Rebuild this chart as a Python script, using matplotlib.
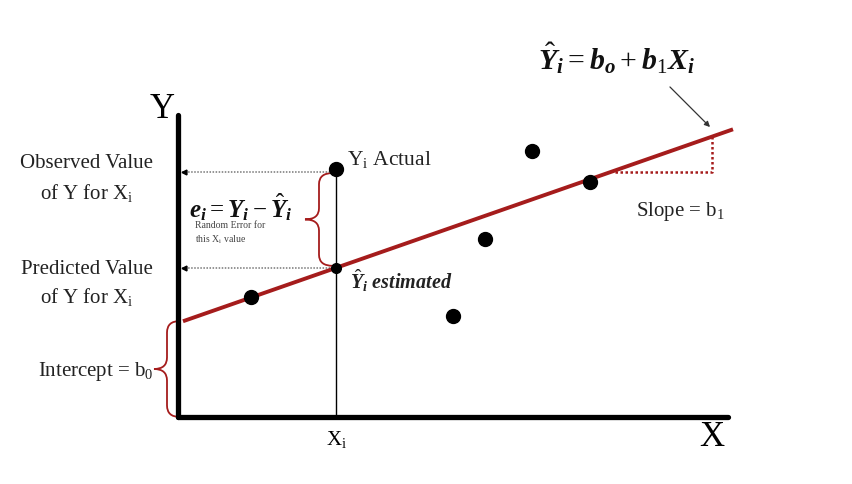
import numpy as np
import matplotlib
matplotlib.use("Agg")
import matplotlib.pyplot as plt
from matplotlib.path import Path
from matplotlib.patches import PathPatch

plt.rcParams["font.family"] = ["Liberation Serif", "DejaVu Serif"]
plt.rcParams["mathtext.fontset"] = "custom"
plt.rcParams["mathtext.rm"] = "Liberation Serif"
plt.rcParams["mathtext.it"] = "Liberation Serif:italic:bold"
plt.rcParams["mathtext.bf"] = "Liberation Serif:bold"

# observations (diagram units, origin at the axis corner)
obs_x = [7.3, 15.8, 27.5, 30.7, 35.4, 41.2]
obs_y = [12.0, 24.8, 10.1, 17.8, 26.6, 23.5]
b0, b1 = 9.4, 0.349
line_x = [0.5, 55.5]
xi = 15.8                 # the highlighted X_i
slope_x = [43.7, 53.4]    # run of the slope triangle
RED = "#A51C1C"


def brace(ax, x, y0, y1, w, color=RED, lw=1.3):
    """vertical curly brace with its tip pointing left (w > 0)"""
    ym = 0.5 * (y0 + y1)
    r = min(w * 0.5, (y1 - y0) * 0.12)
    xc = x - w / 2
    verts = [(x, y1), (xc, y1), (xc, y1 - r),
             (xc, ym + r),
             (xc, ym), (x - w, ym),
             (xc, ym), (xc, ym - r),
             (xc, y0 + r),
             (xc, y0), (x, y0)]
    codes = [Path.MOVETO, Path.CURVE3, Path.CURVE3,
             Path.LINETO,
             Path.CURVE3, Path.CURVE3,
             Path.CURVE3, Path.CURVE3,
             Path.LINETO,
             Path.CURVE3, Path.CURVE3]
    ax.add_patch(PathPatch(Path(verts, codes), fc="none", ec=color, lw=lw))


fig = plt.figure(figsize=(8.53, 4.85), dpi=100)
ax = fig.add_axes([0, 0, 1, 1])
ax.set_xlim(-17.8, 67.5)
ax.set_ylim(-6.7, 41.8)
ax.axis("off")

yhat = b0 + b1 * xi
yobs = obs_y[1]

# axes
ax.plot([0, 0], [0, 30.2], color="black", lw=3.8, solid_capstyle="round")
ax.plot([0, 55.0], [0, 0], color="black", lw=3.8, solid_capstyle="round")

# guide lines
ax.plot([xi, xi], [0, yobs], color="black", lw=1)
for yy in (yobs - 0.3, yhat):
    ax.plot([0.4, xi], [yy, yy], color="#777777", lw=1.1, ls=(0, (1, 1)))
    ax.plot(0.6, yy, marker="<", color="black", ms=3.5)

# regression line
lx = np.array(line_x)
ax.plot(lx, b0 + b1 * lx, color=RED, lw=2.8, solid_capstyle="butt")

# slope triangle
sx0, sx1 = slope_x
ytri = b0 + b1 * sx0 - 0.15
ax.plot([sx0, sx1, sx1], [ytri, ytri, b0 + b1 * sx1],
        color=RED, lw=1.8, ls=(0, (1, 1)))

# points
ax.plot(obs_x, obs_y, "o", color="black", ms=10, ls="none")
ax.plot(xi, yhat, "o", color="black", ms=7)

# braces
brace(ax, xi - 0.3, yhat + 0.2, yobs - 0.4, 2.8)
brace(ax, 0.2, 0.0, b0 + 0.2, 2.6)

# arrow to the line
ax.annotate("", xy=(53.4, 28.8), xytext=(49.0, 33.2),
            arrowprops=dict(arrowstyle="-|>", color="#333333", lw=0.9,
                            mutation_scale=8))

# texts
ax.text(-1.6, 30.8, "Y", fontsize=25, ha="center", va="center")
ax.text(53.4, -2.0, "X", fontsize=25, ha="center", va="center")
ax.text(xi, -2.2, r"X$_\mathrm{i}$", fontsize=15, ha="center", va="center")

lab = dict(fontsize=15, ha="center", va="center", color="#222222")
ax.text(-9.1, 25.5, "Observed Value", **lab)
ax.text(-9.1, 22.5, r"of Y for X$_\mathrm{i}$", **lab)
ax.text(-9.1, 14.8, "Predicted Value", **lab)
ax.text(-9.1, 12.1, r"of Y for X$_\mathrm{i}$", **lab)
ax.text(-2.4, 4.6, r"Intercept = b$_\mathrm{0}$", fontsize=15,
        ha="right", va="center", color="#222222")

ax.text(16.9, 25.9, r"Y$_\mathrm{i}$ Actual", fontsize=15.5, ha="left",
        va="center", color="#222222")
ax.text(17.2, 13.7, r"$\hat{Y}_i$ estimated", fontsize=14.5, ha="left",
        va="center", fontweight="bold", fontstyle="italic", color="#222222")
ax.text(1.1, 21.1, r"$e_i = Y_i - \hat{Y}_i$", fontsize=18, ha="left",
        va="center", color="#111111")
ax.text(1.7, 19.2, "Random Error for", fontsize=7, ha="left", va="center",
        color="#444444")
ax.text(1.7, 17.8, r"this X$_\mathrm{i}$ value", fontsize=7, ha="left",
        va="center", color="#444444")
ax.text(45.8, 20.6, r"Slope = b$_\mathrm{1}$", fontsize=15, ha="left",
        va="center", color="#222222")
ax.text(36.0, 36.0, r"$\hat{Y}_i = b_o + b_{\mathit{1}} X_i$", fontsize=21.5,
        ha="left", va="center", color="#111111")

fig.savefig("out.png", dpi=100)
